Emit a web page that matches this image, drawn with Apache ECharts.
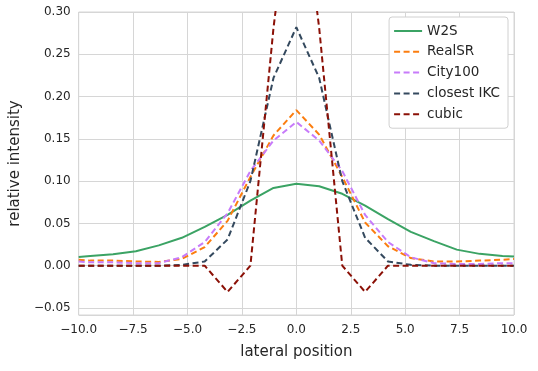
<!DOCTYPE html>
<html>
<head>
<meta charset="utf-8">
<script src="https://cdn.jsdelivr.net/npm/echarts@6/dist/echarts.min.js"></script>
<style>
    html, body { margin: 0; padding: 0; background: #fff; }
    #chart { width: 538px; height: 371px; }
</style>
</head>
<body>
<div id="chart"></div>
<script>
// sample positions (lateral) and kernel profiles
var lateral = [-10, -9.47, -8.42, -7.37, -6.32, -5.26, -4.21, -3.16, -2.11, -1.05, 0,
               1.05, 2.11, 3.16, 4.21, 5.26, 6.32, 7.37, 8.42, 9.47, 10];
var w2s = [0.0104, 0.0116, 0.0136, 0.017, 0.024, 0.033, 0.046, 0.060, 0.077, 0.092, 0.097,
           0.094, 0.085, 0.071, 0.055, 0.040, 0.029, 0.019, 0.014, 0.0116, 0.011];
var realSR = [0.007, 0.006, 0.006, 0.005, 0.0045, 0.008, 0.022, 0.053, 0.105, 0.154, 0.184,
              0.155, 0.105, 0.051, 0.023, 0.009, 0.005, 0.005, 0.006, 0.007, 0.008];
var city100 = [0.005, 0.004, 0.004, 0.003, 0.003, 0.010, 0.028, 0.062, 0.112, 0.148, 0.170,
               0.148, 0.112, 0.060, 0.028, 0.010, 0.003, 0.002, 0.002, 0.003, 0.003];
var closestIKC = [0, 0, 0, 0, 0, 0.001, 0.005, 0.031, 0.100, 0.222, 0.282,
                  0.222, 0.100, 0.033, 0.005, 0.001, 0, 0, 0, 0, 0];
var cubic = [0, 0, 0, 0, 0, 0, 0, -0.031, 0, 0.281, 0.5,
             0.281, 0, -0.031, 0, 0, 0, 0, 0, 0, 0];

var seriesNames = ["W2S", "RealSR", "City100", "closest IKC", "cubic"];
var seriesColors = ["#3ba364", "#fb7d0f", "#c77bfa", "#34495e", "#8b1006"];

var txtColor = "#262626",
    gridColor = "#d6d6d6",
    fontFam = "DejaVu Sans";

function minus(s){
    return s.replace("-", "\u2212");
}

function pairs(ys){
    var out = [];
    for(var i = 0; i < lateral.length; i++){
        out.push([lateral[i], ys[i]]);
    }
    return out;
}

var allValues = [w2s, realSR, city100, closestIKC, cubic];
var series = [];
for(var i = 0; i < allValues.length; i++){
    series.push({
        name: seriesNames[i],
        type: "line",
        data: pairs(allValues[i]),
        symbol: "none",
        clip: true,
        animation: false,
        lineStyle: {
            color: seriesColors[i],
            width: 2,
            type: i === 0 ? "solid" : [6, 3.5]
        },
        itemStyle: { color: seriesColors[i] }
    });
}

var chart = echarts.init(document.getElementById("chart"));
chart.setOption({
    backgroundColor: "#fff",
    animation: false,
    grid: {
        left: 78, right: 24, top: 12, bottom: 56,
        show: true,
        borderColor: gridColor,
        borderWidth: 1
    },
    legend: {
        orient: "vertical",
        right: 30,
        top: 17,
        padding: [7, 8, 7, 4],
        itemGap: 6.8,
        itemWidth: 28,
        itemHeight: 14,
        backgroundColor: "#fff",
        borderColor: "#d0d0d0",
        borderWidth: 1,
        borderRadius: 3,
        itemStyle: { opacity: 0 },
        textStyle: { color: txtColor, fontFamily: fontFam, fontSize: 13.5 },
        data: seriesNames
    },
    xAxis: {
        type: "value",
        min: -10,
        max: 10,
        interval: 2.5,
        name: "lateral position",
        nameLocation: "middle",
        nameGap: 30,
        nameTextStyle: { color: txtColor, fontFamily: fontFam, fontSize: 15 },
        axisLine: { show: false },
        axisTick: { show: false },
        splitLine: { lineStyle: { color: gridColor, width: 1 } },
        axisLabel: {
            color: txtColor, fontFamily: fontFam, fontSize: 12, margin: 9,
            formatter: function(v){ return minus(v.toFixed(1)); }
        }
    },
    yAxis: {
        type: "value",
        min: -0.0583,
        max: 0.30,
        splitNumber: 7,
        name: "relative intensity",
        nameLocation: "middle",
        nameGap: 49,
        nameTextStyle: { color: txtColor, fontFamily: fontFam, fontSize: 15 },
        axisLine: { show: false },
        axisTick: { show: false },
        splitLine: { lineStyle: { color: gridColor, width: 1 } },
        axisLabel: {
            color: txtColor, fontFamily: fontFam, fontSize: 12, margin: 8,
            showMinLabel: false,
            formatter: function(v){
                if(Math.abs(v / 0.05 - Math.round(v / 0.05)) > 1e-6){
                    return "";
                }
                return minus(v.toFixed(2));
            }
        }
    },
    series: series
});
</script>
</body>
</html>
